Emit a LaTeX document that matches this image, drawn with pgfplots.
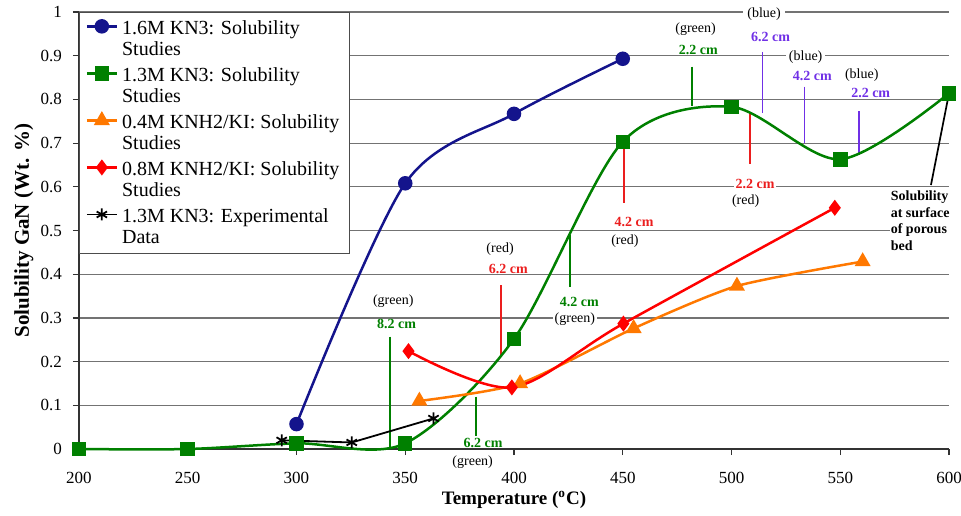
\documentclass[border=0pt]{standalone}
\usepackage{pgfplots}
\pgfplotsset{compat=1.18}
\usepackage{fontspec}
\setmainfont{Liberation Serif}
\definecolor{cblue}{RGB}{20,20,140}
\definecolor{cgreen}{RGB}{0,128,0}
\definecolor{corange}{RGB}{255,120,0}
\definecolor{cred}{RGB}{255,0,0}
\definecolor{cviolet}{RGB}{112,48,230}
\definecolor{ared}{RGB}{235,30,30}
\newcommand{\af}{\fontsize{7}{8.3}\selectfont}
\begin{document}
\begin{tikzpicture}
\begin{axis}[
  scale only axis, width=435pt, height=218.5pt,
  xmin=200, xmax=600, ymin=0, ymax=1,
  axis lines*=left,
  xtick={200,250,300,350,400,450,500,550,600},
  ytick={0,0.1,0.2,0.3,0.4,0.5,0.6,0.7,0.8,0.9,1},
  yticklabels={0,0.1,0.2,0.3,0.4,0.5,0.6,0.7,0.8,0.9,1},
  ymajorgrids, grid style={black!55, line width=0.6pt},
  tick align=outside, major tick length=3pt,
  tick style={black!80, line width=0.6pt},
  axis line style={black!80, line width=0.6pt},
  ticklabel style={font=\fontsize{8.5}{10}\selectfont},
  /pgf/number format/assume math mode=true,
  xticklabel style={yshift=-5pt},
  yticklabel style={xshift=-2pt},
  xlabel={\textbf{Temperature (\textsuperscript{o}C)}},
  xlabel style={font=\fontsize{9.5}{11}\selectfont, at={(axis description cs:0.5,-0.1167)}, anchor=center, inner sep=0pt},
  ylabel={\textbf{Solubility GaN (Wt. \%)}},
  ylabel style={font=\fontsize{10.5}{12}\selectfont, at={(axis description cs:-0.052,0.5)}, anchor=south, inner sep=0pt},
  clip=false,
  legend style={at={(0,1)}, anchor=north west, draw=black!70, line width=0.6pt, fill=white,
    font=\fontsize{10}{10.6}\selectfont, cells={anchor=west, align=left, inner ysep=0pt},
    inner xsep=3pt, inner ysep=1.5pt, row sep=0pt},
  legend image code/.code={\draw[mark repeat=2,mark phase=2,#1,yshift=6.4pt] plot coordinates {(0pt,0pt)(7.5pt,0pt)(15pt,0pt)};},
]
% bounding box coordinates
\coordinate (bl) at (axis cs:163.68,-0.151);
\coordinate (tr) at (axis cs:605.52,1.0275);

% ---------- annotations ----------
\begin{scope}[line width=0.85pt]
% green 8.2 cm
\draw[cgreen] (axis cs:342.9,0.257) -- (axis cs:342.9,0.004);
\node[font=\af, fill=white, inner sep=1pt] at (axis cs:344.5,0.339) {(green)};
\node[font=\af\bfseries, text=cgreen, inner sep=1pt] at (axis cs:346,0.286) {8.2 cm};
% red 6.2 cm
\draw[ared] (axis cs:394,0.375) -- (axis cs:394,0.211);
\node[font=\af, inner sep=1pt] at (axis cs:393.6,0.458) {(red)};
\node[font=\af\bfseries, text=ared, inner sep=1pt] at (axis cs:397.4,0.413) {6.2 cm};
% green 4.2 cm
\draw[cgreen] (axis cs:425.7,0.49) -- (axis cs:425.7,0.371);
\node[font=\af\bfseries, text=cgreen, inner sep=1pt] at (axis cs:430,0.336) {4.2 cm};
\node[font=\af, fill=white, inner sep=1pt] at (axis cs:428,0.297) {(green)};
% green 6.2 cm
\draw[cgreen] (axis cs:382.5,0.12) -- (axis cs:382.5,0.03);
\node[font=\af\bfseries, text=cgreen, inner sep=1pt] at (axis cs:385.8,0.013) {6.2 cm};
\node[font=\af, inner sep=1pt] at (axis cs:381,-0.031) {(green)};
% red 4.2 cm
\draw[ared] (axis cs:450.5,0.69) -- (axis cs:450.5,0.562);
\node[font=\af\bfseries, text=ared, inner sep=1pt] at (axis cs:455.2,0.52) {4.2 cm};
\node[font=\af, inner sep=1pt] at (axis cs:451,0.476) {(red)};
% green 2.2 cm
\draw[cgreen] (axis cs:481.7,0.875) -- (axis cs:481.7,0.785);
\node[font=\af\bfseries, text=cgreen, inner sep=1pt] at (axis cs:484.7,0.913) {2.2 cm};
\node[font=\af, inner sep=1pt] at (axis cs:483.5,0.960) {(green)};
% blue 6.2 cm
\draw[cviolet] (axis cs:514.3,0.909) -- (axis cs:514.3,0.768);
\node[font=\af\bfseries, text=cviolet, inner sep=1pt] at (axis cs:518,0.942) {6.2 cm};
\node[font=\af, fill=white, inner sep=2pt] at (axis cs:515,0.995) {(blue)};
% red 2.2 cm
\draw[ared] (axis cs:508.5,0.772) -- (axis cs:508.5,0.652);
\node[font=\af\bfseries, text=ared, fill=white, inner sep=1pt] at (axis cs:510.8,0.606) {2.2 cm};
\node[font=\af, inner sep=1pt] at (axis cs:506.5,0.567) {(red)};
% blue 4.2 cm
\draw[cviolet] (axis cs:533.5,0.829) -- (axis cs:533.5,0.701);
\node[font=\af\bfseries, text=cviolet, inner sep=1pt] at (axis cs:537.2,0.854) {4.2 cm};
\node[font=\af, fill=white, inner sep=1.5pt] at (axis cs:534.1,0.896) {(blue)};
% blue 2.2 cm
\draw[cviolet] (axis cs:558.6,0.773) -- (axis cs:558.6,0.673);
\node[font=\af\bfseries, text=cviolet, inner sep=1pt] at (axis cs:564,0.815) {2.2 cm};
\node[font=\af, inner sep=1pt] at (axis cs:559.9,0.856) {(blue)};
% surface
\draw[black] (axis cs:600,0.814) -- (axis cs:591.7,0.604);
\node[font=\af\bfseries, fill=white, inner sep=0.5pt, anchor=north west, align=left] at (axis cs:572.4,0.595) {Solubility\\at surface\\of porous\\bed};
\end{scope}

% ---------- data ----------
\addplot[cblue, line width=1.25pt, smooth, tension=0.5, mark=*, mark size=3pt, mark options={solid}]
  coordinates {(300,0.057) (350,0.608) (400,0.767) (450,0.893)};
\addlegendentry{\strut 1.6M KN3: Solubility\\\strut Studies}

\addplot[cgreen, line width=1.25pt, smooth, tension=0.5, mark=square*, mark size=3pt]
  coordinates {(200,0.0) (250,0.0) (300,0.013) (350,0.013) (400,0.252) (450,0.703) (500,0.783) (550,0.663) (600,0.814)};
\addlegendentry{\strut 1.3M KN3: Solubility\\\strut Studies}

\addplot[corange, line width=1.25pt, smooth, tension=0.4, mark=triangle*, mark size=3.4pt]
  coordinates {(356.5,0.110) (402.8,0.150) (455,0.276) (502.5,0.373) (560.3,0.429)};
\addlegendentry{\strut 0.4M KNH2/KI: Solubility\\\strut Studies}

\addplot[cred, line width=1.25pt, smooth, tension=0.5, mark=diamond*, mark size=3pt]
  coordinates {(351.5,0.224) (399,0.141) (450.3,0.287) (547.5,0.552)};
\addlegendentry{\strut 0.8M KNH2/KI: Solubility\\\strut Studies}

\addplot[black, line width=0.9pt, mark=asterisk, mark size=3pt]
  coordinates {(293.2,0.020) (325.4,0.015) (363,0.070)};
\addlegendentry{\strut 1.3M KN3: Experimental\\\strut Data}
\end{axis}
\pgfresetboundingbox
\path (bl) rectangle (tr);
\end{tikzpicture}
\end{document}
